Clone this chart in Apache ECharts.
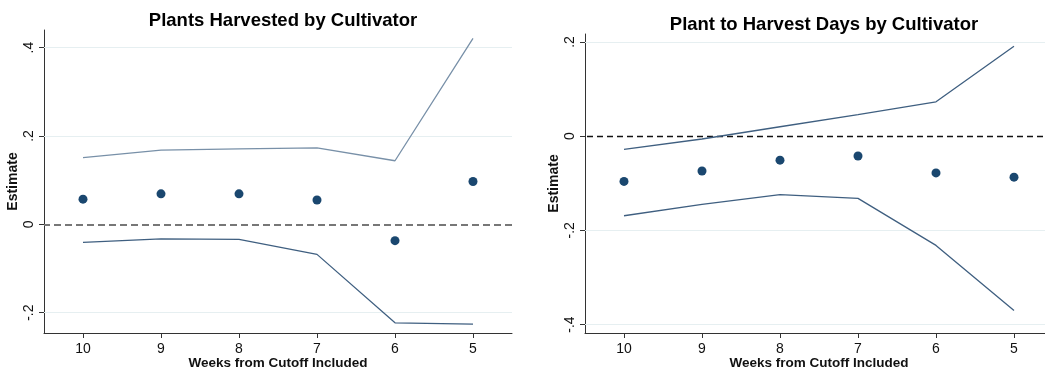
<!DOCTYPE html>
<html><head><meta charset="utf-8">
<script src="https://cdn.jsdelivr.net/npm/echarts@6/dist/echarts.min.js"></script>
<style>html,body{margin:0;padding:0;background:#fff}#c{width:1045px;height:373px}</style>
</head><body><div id="c"></div>
<script>
const weeks = [10, 9, 8, 7, 6, 5];
const xTicks = [10, 9, 8, 7, 6, 5];

// Left: Plants Harvested by Cultivator
const leftEst   = [0.057, 0.069, 0.069, 0.055, -0.037, 0.097];
const leftUpper = [0.151, 0.168, 0.171, 0.173, 0.144, 0.421];
const leftLower = [-0.041, -0.033, -0.034, -0.068, -0.223, -0.226];
const leftYTicks = [-0.2, 0, 0.2, 0.4];

// Right: Plant to Harvest Days by Cultivator
const rightEst   = [-0.096, -0.074, -0.051, -0.042, -0.078, -0.087];
const rightUpper = [-0.028, -0.006, 0.020, 0.046, 0.073, 0.191];
const rightLower = [-0.169, -0.145, -0.124, -0.132, -0.232, -0.370];
const rightYTicks = [-0.4, -0.2, 0, 0.2];

const pair = arr => weeks.map((w, i) => [w, arr[i]]);
const fmt = v => { if (Math.abs(v) < 1e-9) return '0'; const s = String(+v.toFixed(2)); return s.replace('0.', '.'); };

const FONT = '"Liberation Sans", Arial, sans-serif';
const axisCol = '#333';
const gridCol = '#e6eff1';
const lineCol = '#3f5f80';
const dotCol = '#1a476f';

function xAxis(gi) {
  return {
    type: 'value', gridIndex: gi, inverse: true, min: 4.5, max: 10.5,
    name: 'Weeks from Cutoff Included', nameLocation: 'middle', nameGap: 23, nameMoveOverlap: false,
    nameTextStyle: { fontFamily: FONT, fontWeight: 'bold', fontSize: 13.5, color: '#111' },
    axisLine: { show: true, onZero: false, lineStyle: { color: axisCol, width: 1 } },
    axisTick: { show: true, length: 5, customValues: xTicks, lineStyle: { color: axisCol } },
    axisLabel: { customValues: xTicks, margin: 9, fontFamily: FONT, fontSize: 14, color: '#111' },
    splitLine: { show: false }
  };
}
function yAxis(gi, min, max, ticks) {
  return {
    type: 'value', gridIndex: gi, min: min, max: max,
    name: 'Estimate', nameLocation: 'middle', nameGap: 24, nameRotate: 90,
    nameTextStyle: { fontFamily: FONT, fontWeight: 'bold', fontSize: 14, color: '#111' },
    axisLine: { show: true, onZero: false, lineStyle: { color: axisCol, width: 1 } },
    axisTick: { show: true, length: 5, customValues: ticks, lineStyle: { color: axisCol } },
    axisLabel: { customValues: ticks, rotate: 90, margin: 8, fontFamily: FONT, fontSize: 14, color: '#111', formatter: fmt },
    splitLine: { show: false }
  };
}
function gridLines(ticks) {
  return ticks.filter(t => Math.abs(t) > 1e-9).map(t => ({ yAxis: t }));
}
function panel(gi, est, up, lo, ticks, upCol, zeroStyle) {
  return [
    { type: 'line', xAxisIndex: gi, yAxisIndex: gi, data: [], silent: true, z: 1,
      markLine: { z: 1, symbol: 'none', silent: true, label: { show: false },
        lineStyle: { color: gridCol, width: 1, type: 'solid' }, data: gridLines(ticks) } },
    { type: 'line', xAxisIndex: gi, yAxisIndex: gi, data: [], silent: true, z: 2,
      markLine: { z: 2, symbol: 'none', silent: true, label: { show: false },
        lineStyle: zeroStyle, data: [{ yAxis: 0 }] } },
    { type: 'line', xAxisIndex: gi, yAxisIndex: gi, data: pair(up), symbol: 'none',
      lineStyle: { color: upCol, width: 1.3 }, z: 3 },
    { type: 'line', xAxisIndex: gi, yAxisIndex: gi, data: pair(lo), symbol: 'none',
      lineStyle: { color: lineCol, width: 1.3 }, z: 3 },
    { type: 'scatter', xAxisIndex: gi, yAxisIndex: gi, data: pair(est), symbolSize: 9,
      itemStyle: { color: dotCol, opacity: 1 }, z: 4 }
  ];
}

const chart = echarts.init(document.getElementById('c'), null, { renderer: 'canvas' });
chart.setOption({
  animation: false,
  backgroundColor: '#fff',
  title: [
    { text: 'Plants Harvested by Cultivator', left: 278, top: 6, textAlign: 'center',
      textStyle: { fontFamily: FONT, fontWeight: 'bold', fontSize: 18.5, color: '#000' } },
    { text: 'Plant to Harvest Days by Cultivator', left: 819, top: 10, textAlign: 'center',
      textStyle: { fontFamily: FONT, fontWeight: 'bold', fontSize: 18.5, color: '#000' } }
  ],
  grid: [
    { left: 44, right: 533, top: 30, bottom: 40, containLabel: false, outerBoundsMode: 'none' },
    { left: 585, right: -8, top: 34, bottom: 40, containLabel: false, outerBoundsMode: 'none' }
  ],
  xAxis: [xAxis(0), xAxis(1)],
  yAxis: [yAxis(0, -0.246, 0.44, leftYTicks), yAxis(1, -0.418, 0.217, rightYTicks)],
  series: [
    ...panel(0, leftEst, leftUpper, leftLower, leftYTicks, '#7890a8', { color: '#777', width: 2, type: [7, 4] }),
    ...panel(1, rightEst, rightUpper, rightLower, rightYTicks, lineCol, { color: '#111', width: 1.3, type: [6, 4] })
  ]
});
</script></body></html>
